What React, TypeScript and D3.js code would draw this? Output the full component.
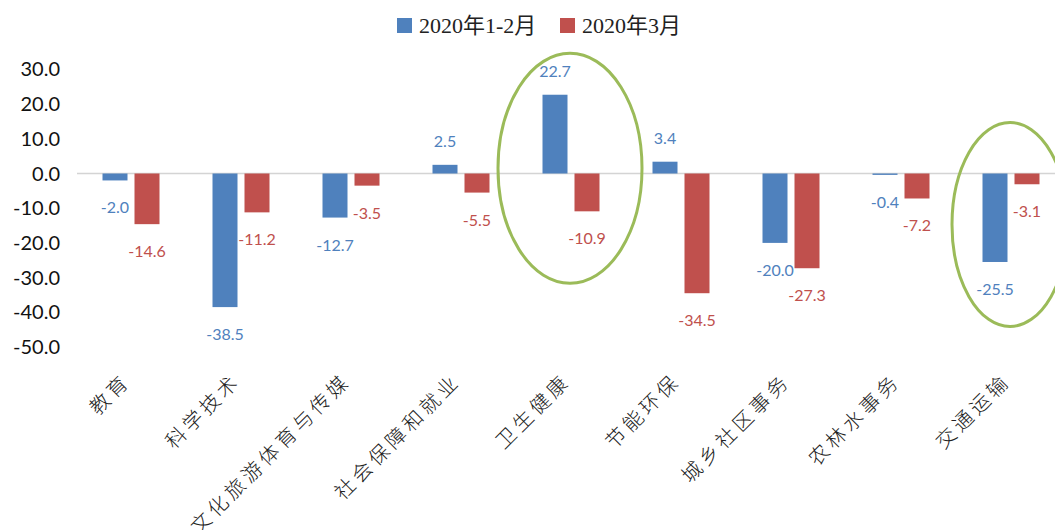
import React, { useEffect, useRef } from 'react';
import * as d3 from 'd3';

const categories = ['教育', '科学技术', '文化旅游体育与传媒', '社会保障和就业', '卫生健康', '节能环保', '城乡社区事务', '农林水事务', '交通运输'];
const seriesNames = ['2020年1-2月', '2020年3月'];
const janFeb = [-2.0, -38.5, -12.7, 2.5, 22.7, 3.4, -20.0, -0.4, -25.5];
const march = [-14.6, -11.2, -3.5, -5.5, -10.9, -34.5, -27.3, -7.2, -3.1];
const yTicks = [30, 20, 10, 0, -10, -20, -30, -40, -50];
// categories circled in the original
const highlighted = [
  { cat: '卫生健康', yCenter: 1.5, rx: 72, ry: 115 },
  { cat: '交通运输', yCenter: -14.7, rx: 58, ry: 102 },
];

const colors = ['#4f81bd', '#c0504d'];

const App = () => {
  const svgRef = useRef<SVGSVGElement>(null);

  useEffect(() => {
    const width = 1055;
    const height = 530;
    d3.select(svgRef.current).selectAll('*').remove();

    const svg = d3.select(svgRef.current)
      .attr('width', width)
      .attr('height', height)
      .style('background', '#fff');

    const x = d3.scaleBand().domain(categories).range([76, 1066]);
    const y = d3.scaleLinear().domain([-50, 30]).range([347, 69.4]);
    const barW = 25;
    const offs = [-16, 16];

    // y tick labels (no axis line)
    svg.append('g').selectAll('text').data(yTicks).enter().append('text')
      .attr('x', 60)
      .attr('y', d => y(d) + 7)
      .attr('text-anchor', 'end')
      .style('font-family', 'Lato, sans-serif')
      .style('font-size', '20px')
      .style('fill', '#111')
      .text(d => d.toFixed(1));

    // zero line
    svg.append('line')
      .attr('x1', 77).attr('x2', width)
      .attr('y1', y(0)).attr('y2', y(0))
      .attr('stroke', '#d4d4d4').attr('stroke-width', 1.5);

    const series = [janFeb, march];
    series.forEach((vals, si) => {
      const g = svg.append('g');
      g.selectAll('rect').data(vals).enter().append('rect')
        .attr('x', (d, i) => x(categories[i])! + x.bandwidth() / 2 + offs[si] - barW / 2)
        .attr('width', barW)
        .attr('y', d => y(Math.max(0, d)))
        .attr('height', d => Math.abs(y(d) - y(0)))
        .attr('fill', colors[si]);

      g.selectAll('text').data(vals).enter().append('text')
        .attr('x', (d, i) => x(categories[i])! + x.bandwidth() / 2 + offs[si])
        .attr('y', d => (d >= 0 ? y(d) - 18 : y(d) + 33))
        .attr('text-anchor', 'middle')
        .style('font-family', 'Lato, sans-serif')
        .style('font-size', '16px')
        .style('fill', colors[si])
        .text(d => d.toFixed(1));
    });

    // category labels, rotated -45
    const ls = 4;
    svg.append('g').selectAll('text').data(categories).enter().append('text')
      .attr('transform', d => `translate(${x(d)! + x.bandwidth() / 2 - 2},385) rotate(-45)`)
      .attr('x', ls)
      .attr('text-anchor', 'end')
      .style('font-family', "'Noto Sans CJK SC', sans-serif")
      .style('font-size', '20px')
      .style('font-weight', 300)
      .style('letter-spacing', `${ls}px`)
      .style('fill', '#222')
      .text(d => d);

    // highlight ellipses
    svg.append('g').selectAll('ellipse').data(highlighted).enter().append('ellipse')
      .attr('cx', d => x(d.cat)! + x.bandwidth() / 2 - 1)
      .attr('cy', d => y(d.yCenter))
      .attr('rx', d => d.rx)
      .attr('ry', d => d.ry)
      .attr('fill', 'none')
      .attr('stroke', '#9bbb59')
      .attr('stroke-width', 3);

    // legend
    const legendX = [397, 560];
    const legend = svg.append('g').selectAll('g').data(seriesNames).enter().append('g')
      .attr('transform', (d, i) => `translate(${legendX[i]},18)`);
    legend.append('rect')
      .attr('width', 15).attr('height', 15)
      .attr('fill', (d, i) => colors[i]);
    legend.append('text')
      .attr('x', 22).attr('y', 15)
      .style('font-family', "'Liberation Serif', 'Noto Sans CJK SC', serif")
      .style('font-size', '22px')
      .style('fill', '#222')
      .text(d => d);
  }, []);

  return (
    <svg ref={svgRef} style={{ position: 'fixed', left: 0, top: 0, display: 'block' }}></svg>
  );
};

export default App;
